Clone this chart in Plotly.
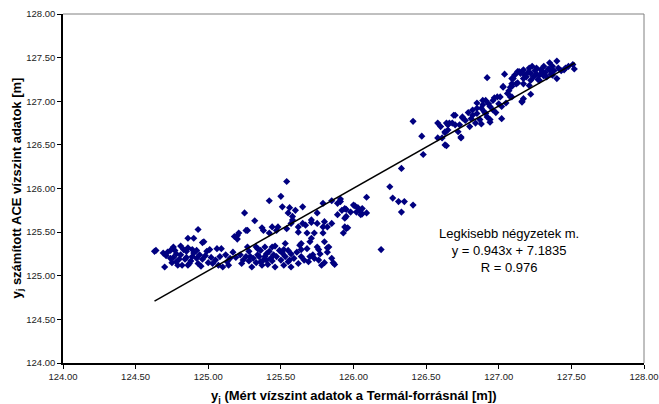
import plotly.graph_objects as go

low_cluster = [
    (124.63,125.28),(124.64,125.29),(124.69,125.26),(124.70,125.10),(124.71,125.23),(124.72,125.27),
    (124.74,125.20),(124.74,125.29),(124.75,125.15),(124.76,125.33),(124.76,125.21),(124.77,125.29),
    (124.78,125.16),(124.78,125.25),(124.79,125.12),(124.80,125.19),(124.81,125.24),(124.81,125.34),
    (124.82,125.12),(124.83,125.30),(124.84,125.19),(124.85,125.28),(124.85,125.21),(124.86,125.32),
    (124.86,125.12),(124.86,125.43),(124.87,125.14),(124.88,125.17),(124.89,125.22),(124.89,125.30),
    (124.90,125.43),(124.90,125.26),(124.92,125.29),(124.92,125.20),(124.93,125.53),(124.93,125.14),
    (124.94,125.24),(124.95,125.11),(124.96,125.38),(124.96,125.19),(124.97,125.39),(124.98,125.23),
    (124.99,125.28),(125.00,125.15),(125.01,125.30),(125.02,125.21),(125.03,125.14),(125.05,125.18),
    (125.06,125.31),(125.07,125.12),(125.08,125.22),(125.09,125.31),(125.10,125.10),(125.12,125.24),
    (125.13,125.16),(125.14,125.12),(125.15,125.20),(125.17,125.27),(125.18,125.45),(125.19,125.21),
    (125.20,125.46),(125.20,125.42),(125.21,125.49),(125.22,125.24),(125.23,125.14),(125.24,125.18),
    (125.25,125.72),(125.26,125.52),(125.26,125.22),(125.27,125.52),(125.27,125.33),(125.28,125.28),
    (125.28,125.17),
]

mid_cluster = [
    (125.29,125.22),(125.30,125.10),(125.31,125.20),(125.32,125.63),(125.33,125.33),(125.33,125.15),
    (125.34,125.24),(125.34,125.31),(125.35,125.22),(125.36,125.16),(125.36,125.29),(125.37,125.55),
    (125.37,125.12),(125.38,125.52),(125.38,125.18),(125.39,125.33),(125.39,125.22),(125.40,125.18),
    (125.40,125.25),(125.41,125.13),(125.42,125.49),(125.42,125.86),(125.42,125.28),(125.43,125.20),
    (125.44,125.33),(125.44,125.56),(125.44,125.17),(125.45,125.24),(125.46,125.10),(125.46,125.34),
    (125.47,125.52),(125.47,125.22),(125.48,125.56),(125.49,125.29),(125.50,125.91),(125.50,125.18),
    (125.51,125.79),(125.51,125.26),(125.52,125.12),(125.52,125.30),(125.53,125.37),(125.53,125.22),
    (125.54,125.54),(125.54,126.08),(125.55,125.72),(125.55,125.29),(125.55,125.16),(125.56,125.78),
    (125.56,125.18),(125.57,125.10),(125.57,125.60),(125.57,125.25),(125.58,125.64),(125.58,125.68),
    (125.59,125.20),(125.60,125.75),(125.61,125.27),(125.62,125.50),(125.62,125.56),(125.62,125.14),
    (125.63,125.35),(125.64,125.22),(125.64,125.37),(125.64,125.30),(125.65,125.79),(125.65,125.60),
    (125.66,125.18),(125.67,125.58),(125.68,125.31),(125.68,125.49),(125.69,125.16),(125.70,125.39),
    (125.70,125.22),(125.71,125.64),(125.71,125.61),(125.71,125.43),(125.72,125.24),(125.73,125.49),
    (125.73,125.20),(125.75,125.33),(125.75,125.72),(125.75,125.60),(125.76,125.18),(125.76,125.30),
    (125.77,125.25),(125.78,125.12),(125.79,125.56),(125.79,125.83),(125.79,125.49),(125.80,125.39),
    (125.80,125.62),(125.80,125.15),(125.82,125.56),(125.82,125.32),(125.82,125.27),(125.83,125.33),
    (125.85,125.86),(125.85,125.60),(125.85,125.20),(125.86,125.15),(125.87,125.13),(125.89,125.83),
    (125.89,125.70),(125.91,125.88),(125.91,125.85),(125.92,125.75),(125.93,125.49),(125.94,125.66),
    (125.94,125.77),(125.94,125.56),(125.95,125.54),(125.95,125.68),(125.95,125.76),(125.96,125.55),
    (125.98,125.73),(126.00,125.81),(126.01,125.80),(126.02,125.73),(126.03,125.78),(126.04,125.75),
    (126.05,125.70),(126.06,125.77),(126.06,125.71),(126.09,125.72),(126.09,125.90),(126.19,125.30),
]

high_band = [
    (126.25,126.02),(126.27,125.89),(126.31,125.85),(126.33,125.73),(126.33,126.23),(126.35,125.85),
    (126.41,125.81),(126.41,126.77),(126.47,126.60),(126.48,126.39),(126.58,126.75),(126.58,126.58),
    (126.60,126.71),(126.61,126.58),(126.63,126.65),(126.63,126.50),(126.63,126.64),(126.64,126.75),
    (126.64,126.49),(126.65,126.73),(126.65,126.67),(126.66,126.75),(126.68,126.75),(126.69,126.84),
    (126.70,126.84),(126.70,126.73),(126.72,126.65),(126.73,126.73),(126.74,126.59),(126.74,126.58),
    (126.75,126.82),(126.75,126.81),(126.77,126.78),(126.79,126.87),(126.80,126.71),(126.81,126.80),
    (126.82,126.90),(126.82,126.84),(126.84,126.75),(126.85,126.98),(126.85,126.86),(126.85,126.92),
    (126.87,126.79),(126.88,126.74),(126.88,126.92),(126.89,126.96),(126.89,127.01),(126.90,126.88),
    (126.91,127.01),(126.91,126.86),(126.92,126.82),(126.92,127.27),(126.93,126.97),(126.94,126.79),
    (126.94,126.94),(126.94,126.76),(126.96,127.01),(126.96,126.90),(126.97,127.04),(126.98,126.87),
    (126.99,127.05),(127.00,126.97),(127.01,127.05),(127.02,126.94),(127.02,126.80),(127.03,127.16),
    (127.03,127.17),(127.04,127.31),(127.05,126.98),(127.06,127.09),(127.07,127.12),(127.08,127.05),
    (127.08,127.16),(127.09,127.26),(127.09,127.17),(127.09,127.05),(127.09,127.20),(127.10,127.26),
    (127.11,127.30),(127.12,127.20),(127.13,127.34),(127.13,127.21),(127.14,127.34),(127.15,127.32),
    (127.16,126.99),(127.16,127.00),(127.17,127.03),(127.17,127.36),(127.17,127.26),(127.17,127.20),
    (127.18,127.30),(127.19,127.28),(127.20,127.33),(127.21,127.38),(127.21,127.18),(127.22,127.32),
    (127.22,127.24),(127.22,127.08),(127.23,127.40),(127.24,127.28),(127.25,127.35),(127.26,127.38),
    (127.26,127.31),(127.27,127.25),(127.28,127.30),(127.28,127.24),(127.29,127.36),(127.30,127.34),
    (127.31,127.40),(127.31,127.29),(127.32,127.33),(127.33,127.28),(127.34,127.37),(127.35,127.36),
    (127.35,127.44),(127.36,127.31),(127.37,127.40),(127.37,127.30),(127.38,127.35),(127.40,127.46),
    (127.40,127.26),(127.41,127.38),(127.43,127.35),(127.45,127.36),(127.46,127.38),(127.48,127.40),
    (127.51,127.42),(127.52,127.37),
]

slope = 0.943
intercept = 7.1835
r_value = 0.976
trend_x = [124.63, 127.525]
tick_vals = [124.0, 124.5, 125.0, 125.5, 126.0, 126.5, 127.0, 127.5, 128.0]
tick_text = ["124.00", "124.50", "125.00", "125.50", "126.00", "126.50", "127.00", "127.50", "128.00"]

points = low_cluster + mid_cluster + high_band
xs = [p[0] for p in points]
ys = [p[1] for p in points]
trend_y = [slope * x + intercept for x in trend_x]

FONT = "Arial, 'Liberation Sans', sans-serif"

fig = go.Figure()
fig.add_trace(go.Scatter(
    x=xs, y=ys, mode="markers",
    marker=dict(symbol="diamond", size=5.5, color="#000080", line=dict(width=0)),
    showlegend=False, hoverinfo="x+y",
))
fig.add_trace(go.Scatter(
    x=trend_x, y=trend_y, mode="lines",
    line=dict(color="black", width=1.5),
    showlegend=False,
))

axis_common = dict(
    range=[124, 128], tickvals=tick_vals, ticktext=tick_text,
    showgrid=False, zeroline=False, ticks="outside", ticklen=4,
    tickcolor="black", tickwidth=1, showline=True, linecolor="black", linewidth=1.5,
    tickfont=dict(family=FONT, size=9.5, color="#222222"), automargin=False,
)

fig.update_layout(
    width=659, height=404,
    margin=dict(l=63, r=15, t=14, b=41),
    paper_bgcolor="white", plot_bgcolor="white",
    font=dict(family=FONT),
    xaxis=dict(**axis_common),
    yaxis=dict(**axis_common),
    shapes=[
        dict(type="line", xref="paper", yref="paper", x0=0, x1=1, y0=1, y1=1,
             line=dict(color="#808080", width=1)),
        dict(type="line", xref="paper", yref="paper", x0=1, x1=1, y0=0, y1=1,
             line=dict(color="#808080", width=1)),
    ],
    annotations=[
        dict(x=0.5, y=0, xref="paper", yref="paper", xanchor="center", yanchor="middle",
             yshift=-33, showarrow=False,
             text="<b>y<sub>j</sub> (Mért vízszint adatok a Termál-forrásnál [m])</b>",
             font=dict(family=FONT, size=13, color="black")),
        dict(x=0, y=0.5, xref="paper", yref="paper", xanchor="center", yanchor="middle",
             xshift=-46, textangle=-90, showarrow=False,
             text="<b>y<sub>j</sub> számított ACE vízszint adatok [m]</b>",
             font=dict(family=FONT, size=13, color="black")),
        dict(x=127.07, y=125.295, xref="x", yref="y", showarrow=False,
             xanchor="center", yanchor="middle",
             text=f"Legkisebb négyzetek m.<br>y = {slope}x + {intercept}<br>R = {r_value}",
             align="center", font=dict(family=FONT, size=13, color="black")),
    ],
)

fig.write_html(
    "out.html",
    config={"displayModeBar": False},
    post_script="document.body.style.margin='0';document.body.style.overflow='hidden';",
)
